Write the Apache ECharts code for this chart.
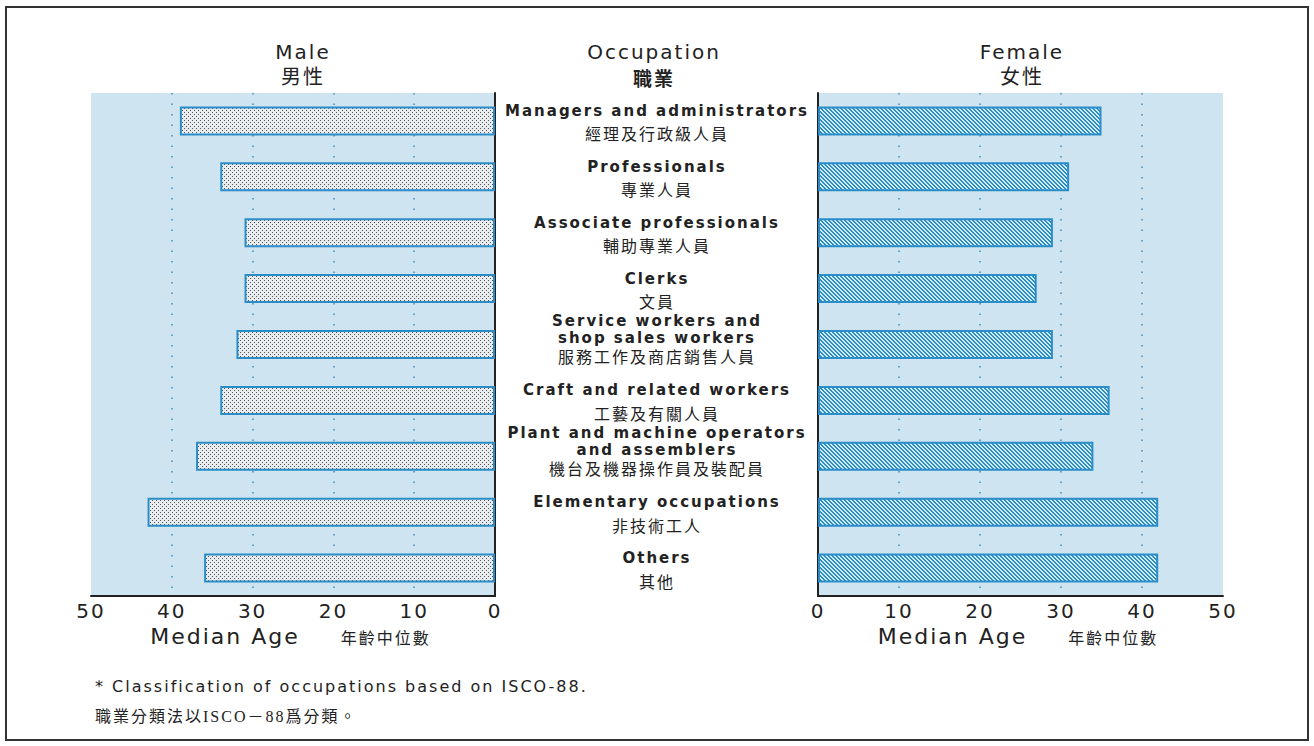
<!DOCTYPE html>
<html>
<head>
<meta charset="utf-8">
<script src="https://cdn.jsdelivr.net/npm/echarts@6/dist/echarts.min.js"></script>
<style>
    html, body { margin: 0; padding: 0; background: #fff; }
    #chart { width: 1314px; height: 746px; }
    /* the printed chart uses widely tracked type */
    #chart svg text { letter-spacing: 2px; }
</style>
</head>
<body>
<div id="chart"></div>
<script>
// 職業 / Occupation (top to bottom)
const occupationsEn = [
    'Managers and administrators',
    'Professionals',
    'Associate professionals',
    'Clerks',
    'Service workers and\nshop sales workers',
    'Craft and related workers',
    'Plant and machine operators\nand assemblers',
    'Elementary occupations',
    'Others'
]
const occupationsZh = [
    '經理及行政級人員',
    '專業人員',
    '輔助專業人員',
    '文員',
    '服務工作及商店銷售人員',
    '工藝及有關人員',
    '機台及機器操作員及裝配員',
    '非技術工人',
    '其他'
]
// median age
const maleMedianAge = [39, 34, 31, 31, 32, 34, 37, 43, 36]
const femaleMedianAge = [35, 31, 29, 27, 29, 36, 34, 42, 42]
const ageTicks = [0, 10, 20, 30, 40, 50]

const FONT = "'DejaVu Sans', 'Noto Sans CJK TC', sans-serif"
const INK = '#222'
const PLOT_BG = '#cfe4f1'
const BAR_EDGE = '#2a8dc8'

// fine stipple for the male bars
function makeDotPattern() {
    const c = document.createElement('canvas')
    c.width = 4
    c.height = 4
    const ctx = c.getContext('2d')
    ctx.fillStyle = '#e8ecee'
    ctx.fillRect(0, 0, 4, 4)
    ctx.fillStyle = '#555'
    ctx.fillRect(0, 0, 1, 1)
    ctx.fillRect(2, 2, 1, 1)
    return c
}

// diagonal hatch for the female bars
function makeHatchPattern() {
    const c = document.createElement('canvas')
    c.width = 4
    c.height = 4
    const ctx = c.getContext('2d')
    ctx.fillStyle = '#d4ecf8'
    ctx.fillRect(0, 0, 4, 4)
    ctx.fillStyle = '#2a8dc8'
    for (let y = 0; y < 4; y++) {
        ctx.fillRect(y, y, 1, 1)
        ctx.fillRect((y + 1) % 4, y, 1, 1)
    }
    return c
}

function categoryLabel(value, index) {
    const en = occupationsEn[index]
    const zh = occupationsZh[index]
    if (en.indexOf('\n') >= 0) {
        return `{en2|${en}}\n{zh2|${zh}}\n{pad| }`
    }
    return `{en|${en}}\n{zh|${zh}}`
}

const axisNameText = '{en|Median Age}{zh|年齡中位數}'
const axisNameStyle = {
    color: INK,
    fontFamily: FONT,
    rich: {
        en: { fontSize: 22, lineHeight: 24, color: INK, fontFamily: FONT },
        zh: { fontSize: 16, lineHeight: 24, color: INK, fontFamily: FONT, padding: [4, 0, 0, 56] }
    }
}

function valueAxis(gridIndex, inverse) {
    return {
        type: 'value',
        gridIndex,
        inverse,
        min: ageTicks[0],
        max: ageTicks[ageTicks.length - 1],
        interval: ageTicks[1] - ageTicks[0],
        name: axisNameText,
        nameLocation: 'middle',
        nameGap: 24,
        nameTextStyle: axisNameStyle,
        axisLine: { show: true, lineStyle: { color: INK, width: 2 } },
        axisTick: { show: false },
        axisLabel: { color: INK, fontSize: 20, fontFamily: FONT, margin: 5 },
        splitLine: {
            show: true,
            showMinLine: false,
            showMaxLine: false,
            lineStyle: { color: '#3a8fc4', width: 1.5, type: [1.5, 9] }
        }
    }
}

const chart = echarts.init(document.getElementById('chart'), null, { renderer: 'svg' })

const titleBase = {
    textAlign: 'center',
    top: 40,
    itemGap: 1,
    padding: 0,
    textStyle: { color: INK, fontSize: 20, fontWeight: 'normal', fontFamily: FONT, lineHeight: 24 },
    subtextStyle: { color: INK, fontSize: 20, fontFamily: FONT, lineHeight: 24 }
}

chart.setOption({
    backgroundColor: '#fff',
    animation: false,
    title: [
        { ...titleBase, text: 'Male', subtext: '男性', left: 303 },
        {
            ...titleBase,
            text: 'Occupation',
            subtext: '職業',
            left: 654,
            itemGap: 3,
            subtextStyle: { color: INK, fontSize: 19, fontWeight: 'bold', fontFamily: FONT, lineHeight: 24 }
        },
        { ...titleBase, text: 'Female', subtext: '女性', left: 1022 },
        {
            text: '* Classification of occupations based on ISCO-88.',
            subtext: '職業分類法以ISCO－88爲分類。',
            left: 95,
            top: 676,
            padding: 0,
            itemGap: 9,
            textStyle: { color: INK, fontSize: 16, fontWeight: 'normal', fontFamily: FONT, lineHeight: 20 },
            subtextStyle: { color: INK, fontSize: 16, fontFamily: "'Liberation Serif', 'Noto Sans CJK TC', serif", lineHeight: 22 }
        }
    ],
    graphic: [
        {
            type: 'rect',
            shape: { x: 6, y: 7, width: 1302, height: 733 },
            style: { fill: 'none', stroke: '#333', lineWidth: 2 },
            silent: true
        }
    ],
    grid: [
        { left: 91, width: 404, top: 93, height: 503, show: true, backgroundColor: PLOT_BG, borderWidth: 0 },
        { left: 818, width: 405, top: 93, height: 503, show: true, backgroundColor: PLOT_BG, borderWidth: 0 }
    ],
    xAxis: [valueAxis(0, true), valueAxis(1, false)],
    yAxis: [
        {
            type: 'category',
            gridIndex: 0,
            position: 'right',
            inverse: true,
            data: occupationsEn,
            axisLine: { show: true, lineStyle: { color: INK, width: 2 } },
            axisTick: { show: false },
            splitLine: { show: false },
            axisLabel: {
                interval: 0,
                align: 'center',
                margin: 162,
                formatter: categoryLabel,
                color: INK,
                fontFamily: FONT,
                rich: {
                    en: { fontSize: 15, fontWeight: 'bold', lineHeight: 28, color: INK, fontFamily: FONT, align: 'center' },
                    zh: { fontSize: 16, lineHeight: 20, color: INK, fontFamily: FONT, align: 'center' },
                    en2: { fontSize: 15, fontWeight: 'bold', lineHeight: 17, color: INK, fontFamily: FONT, align: 'center' },
                    zh2: { fontSize: 16, lineHeight: 22, color: INK, fontFamily: FONT, align: 'center' },
                    pad: { fontSize: 6, lineHeight: 8 }
                }
            }
        },
        {
            type: 'category',
            gridIndex: 1,
            inverse: true,
            data: occupationsEn,
            axisLine: { show: true, lineStyle: { color: INK, width: 2 } },
            axisTick: { show: false },
            splitLine: { show: false },
            axisLabel: { show: false }
        }
    ],
    series: [
        {
            name: 'Male',
            type: 'bar',
            xAxisIndex: 0,
            yAxisIndex: 0,
            data: maleMedianAge,
            barWidth: 29,
            itemStyle: {
                color: { image: makeDotPattern(), repeat: 'repeat' },
                borderColor: BAR_EDGE,
                borderWidth: 2
            }
        },
        {
            name: 'Female',
            type: 'bar',
            xAxisIndex: 1,
            yAxisIndex: 1,
            data: femaleMedianAge,
            barWidth: 29,
            itemStyle: {
                color: { image: makeHatchPattern(), repeat: 'repeat' },
                borderColor: BAR_EDGE,
                borderWidth: 2
            }
        }
    ]
})
</script>
</body>
</html>
